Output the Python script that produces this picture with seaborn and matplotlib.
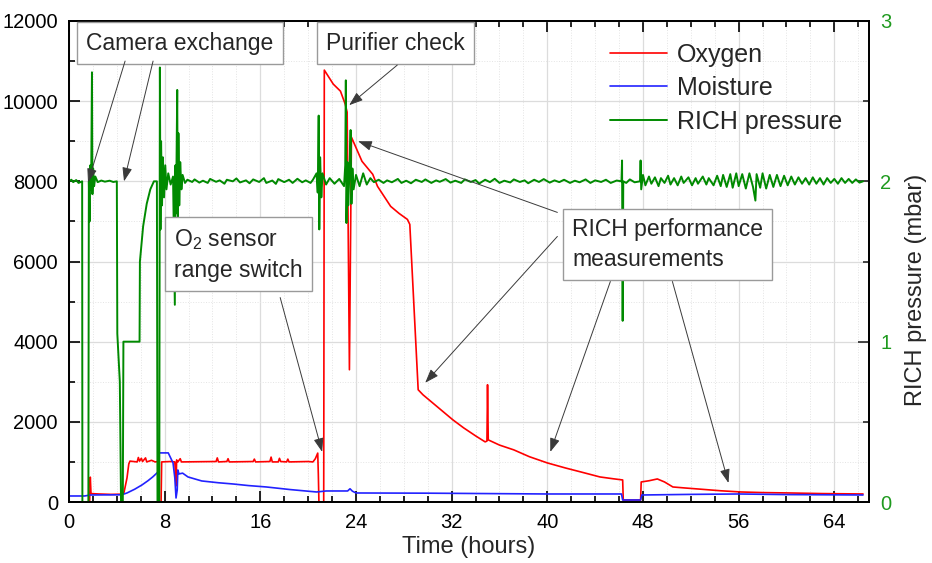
import matplotlib
matplotlib.use('Agg')
import matplotlib.pyplot as plt
from matplotlib.ticker import MultipleLocator
import seaborn as sns

# Werte: (Zeit in h, Wert)
oxygen_points = [
    (1.72, 0), (1.78, 620), (1.84, 210), (2.5, 200), (3.5, 190), (4.4, 195), (4.6, 240),
    (4.85, 600), (5.0, 950), (5.1, 1020), (5.7, 1000), (5.8, 1110), (5.9, 1020), (6.05, 1090),
    (6.15, 1010), (6.4, 1100), (6.5, 1000), (6.9, 1040), (7.2, 1000), (7.45, 1010), (7.5, 0),
    (7.7, 0), (7.75, 1000), (8.5, 1010), (8.85, 1000), (8.9, 700), (8.95, 400), (9.0, 1050),
    (9.1, 1000), (9.3, 1080), (9.4, 1000), (12.3, 1010), (12.4, 1100), (12.5, 1000),
    (13.2, 1010), (13.3, 1080), (13.4, 1000), (15.4, 1010), (15.5, 1070), (15.6, 1000),
    (16.8, 1010), (16.9, 1120), (17.0, 1000), (17.5, 1000), (17.6, 1090), (17.7, 1010),
    (18.2, 1000), (18.3, 1070), (18.4, 1000), (20.0, 1010), (20.4, 1000), (20.6, 1080),
    (20.8, 1220), (20.85, 700), (20.9, 0), (21.3, 0), (21.35, 10775), (22.1, 10425),
    (22.7, 10250), (23.1, 9925), (23.26, 9725), (23.45, 3300), (23.62, 9100), (24.5, 8500),
    (25.4, 8175), (25.8, 7875), (26.9, 7375), (27.6, 7200), (28.3, 7050), (28.5, 6925),
    (29.2, 2800), (29.6, 2675), (30.5, 2450), (31.3, 2250), (32.1, 2050), (33.0, 1850),
    (34.0, 1650), (34.8, 1500), (34.95, 1520), (35.0, 2925), (35.06, 1550), (36.0, 1420),
    (37.2, 1300), (38.5, 1130), (40.0, 975), (41.5, 850), (42.8, 750), (44.4, 625),
    (45.5, 580), (46.3, 550), (46.35, 50), (47.8, 50), (47.85, 500), (48.5, 530),
    (49.2, 575), (49.8, 500), (50.5, 375), (51.5, 350), (52.8, 320), (54.5, 280),
    (56.2, 250), (58.0, 235), (60.3, 225), (63.0, 210), (66.4, 200),
]

moisture_points = [
    (0, 150), (1.3, 150), (1.5, 160), (1.8, 175), (4.4, 180), (4.85, 225), (5.5, 320),
    (6.1, 425), (6.6, 530), (7.0, 625), (7.45, 750), (7.5, 1225), (8.3, 1225), (8.7, 975),
    (8.85, 600), (8.95, 100), (9.05, 300), (9.1, 800), (9.2, 700), (9.5, 720), (9.95, 625),
    (11.1, 525), (12.5, 480), (13.7, 450), (15.0, 410), (16.5, 375), (18.5, 310),
    (20.7, 250), (21.5, 275), (23.3, 275), (23.5, 330), (23.7, 270), (24.0, 225),
    (30.0, 220), (40.0, 200), (46.2, 200), (46.3, 50), (47.8, 50), (47.9, 175),
    (52.0, 190), (56.0, 200), (60.0, 185), (66.4, 175),
]

pressure_points = [
    (0.0, 2.00), (0.2, 2.01), (0.35, 1.995), (0.6, 2.008), (0.8, 1.99), (1.1, 2.00),
    (1.12, 0.0), (1.62, 0.0), (1.66, 2.0), (1.72, 1.75), (1.78, 2.10), (1.85, 1.95),
    (1.92, 2.68), (1.96, 1.92), (2.02, 2.08), (2.1, 1.97), (2.2, 2.03), (2.4, 1.995),
    (2.7, 2.005), (3.0, 1.998), (3.4, 2.004), (3.7, 1.996), (4.0, 2.0),
    (4.04, 1.05), (4.25, 0.75), (4.35, 0.0), (4.5, 0.0), (4.55, 1.0), (5.9, 1.0), (5.93, 1.5),
    (6.2, 1.72), (6.5, 1.86), (6.8, 1.95), (7.1, 2.0), (7.35, 2.0), (7.4, 0.0), (7.55, 0.0),
    (7.6, 2.71), (7.65, 1.7), (7.7, 2.25), (7.78, 1.85), (7.85, 2.15), (7.95, 1.9),
    (8.05, 2.1), (8.15, 1.95), (8.3, 2.05), (8.5, 1.98), (8.7, 2.03), (8.85, 1.23),
    (8.9, 2.1), (8.95, 1.8), (9.05, 2.57), (9.1, 1.7), (9.15, 2.3), (9.22, 1.85),
    (9.3, 2.12), (9.4, 1.95), (9.5, 2.04), (9.7, 1.99), (9.9, 2.01), (10.3, 1.996),
    (10.5, 2.012), (10.9, 1.992), (11.2, 2.004), (11.6, 1.99), (11.8, 2.015), (12.3, 1.997),
    (12.6, 2.006), (13.0, 1.985), (13.2, 2.01), (13.7, 2.0), (14.0, 2.018), (14.3, 1.993),
    (14.8, 2.006), (15.1, 1.988), (15.4, 2.012), (15.9, 1.996), (16.3, 2.02), (16.5, 1.99),
    (17.0, 2.005), (17.3, 1.984), (17.5, 2.014), (18.0, 1.995), (18.4, 2.01), (18.7, 1.99),
    (19.1, 2.016), (19.5, 1.994), (19.8, 2.006), (20.2, 1.99), (20.4, 2.01), (20.7, 2.05),
    (20.8, 1.93), (20.88, 2.41), (20.93, 1.70), (21.0, 2.15), (21.1, 1.9), (21.2, 2.05),
    (21.5, 1.98), (21.8, 2.02), (22.2, 1.985), (22.6, 2.015), (23.0, 1.97), (23.1, 2.1),
    (23.15, 2.63), (23.2, 1.74), (23.28, 2.12), (23.35, 1.85), (23.45, 2.05), (23.55, 2.32),
    (23.62, 1.86), (23.7, 2.08), (23.8, 1.95), (24.0, 2.04), (24.3, 1.97), (24.6, 2.05),
    (24.9, 1.98), (25.2, 2.02), (25.5, 1.995), (25.9, 2.01), (26.3, 1.99), (26.6, 2.006),
    (27.0, 1.994), (27.5, 2.015), (27.8, 1.99), (28.2, 2.004), (28.6, 1.988), (29.0, 2.01),
    (29.5, 1.996), (29.8, 2.012), (30.3, 1.99), (30.7, 2.006), (31.0, 1.997), (31.5, 2.014),
    (31.9, 1.992), (32.3, 2.004), (32.8, 1.99), (33.1, 2.012), (33.6, 1.996), (34.0, 2.008),
    (34.3, 1.986), (34.8, 2.01), (35.2, 1.995), (35.6, 2.016), (36.0, 1.99), (36.4, 2.004),
    (36.9, 1.993), (37.2, 2.012), (37.7, 1.996), (38.1, 2.006), (38.4, 1.988), (38.9, 2.01),
    (39.3, 1.996), (39.7, 2.014), (40.2, 1.992), (40.6, 2.006), (41.0, 1.995), (41.4, 2.01),
    (41.9, 1.99), (42.3, 2.004), (42.7, 1.994), (43.2, 2.012), (43.6, 1.99), (44.0, 2.006),
    (44.5, 1.996), (44.9, 2.01), (45.3, 1.99), (45.8, 2.005), (46.2, 2.0), (46.25, 2.13),
    (46.3, 1.13), (46.35, 2.0), (46.6, 1.99), (46.9, 2.012), (47.3, 1.994), (47.75, 2.0),
    (47.8, 2.13), (47.85, 1.95), (48.0, 2.04), (48.2, 1.975), (48.5, 2.03), (48.7, 1.985),
    (49.0, 2.025), (49.3, 1.97), (49.5, 2.02), (49.8, 1.99), (50.1, 2.035), (50.3, 1.98),
    (50.6, 2.02), (50.9, 1.975), (51.2, 2.03), (51.4, 1.99), (51.8, 2.025), (52.1, 1.975),
    (52.4, 2.02), (52.6, 1.985), (53.0, 2.03), (53.3, 1.98), (53.5, 2.02), (53.9, 1.975),
    (54.2, 2.035), (54.5, 1.97), (54.7, 2.04), (55.0, 1.965), (55.3, 2.045), (55.5, 1.96),
    (55.8, 2.05), (56.0, 1.97), (56.3, 2.045), (56.6, 1.955), (56.9, 2.05), (57.2, 1.965),
    (57.4, 1.88), (57.5, 2.045), (57.8, 1.96), (58.0, 2.05), (58.3, 1.955), (58.6, 2.04),
    (58.9, 1.965), (59.2, 2.04), (59.5, 1.97), (59.8, 2.035), (60.1, 1.975), (60.4, 2.03),
    (60.7, 1.98), (61.0, 2.025), (61.3, 1.985), (61.6, 2.02), (61.9, 1.98), (62.2, 2.025),
    (62.5, 1.985), (62.8, 2.02), (63.1, 1.98), (63.4, 2.02), (63.7, 1.99), (64.0, 2.015),
    (64.3, 1.985), (64.6, 2.02), (64.9, 1.99), (65.2, 2.015), (65.5, 1.99), (65.8, 2.012),
    (66.1, 1.992), (66.4, 2.0),
]

series_labels = ['Oxygen', 'Moisture', 'RICH pressure']
series_colors = ['#ff0000', '#2222ff', '#008a00']

# Anmerkungen: (Text, Position in h / ppm, Ausrichtung)
notes = [
    ('Camera exchange', 9.29, 11450, 'center'),
    ('Purifier check', 27.28, 11450, 'center'),
    ('O$_\\mathregular{2}$ sensor\nrange switch', 8.79, 6175, 'left'),
    ('RICH performance\nmeasurements', 42.09, 6425, 'left'),
]
# Pfeile: (Start, Spitze) in h / ppm
arrows = [
    ((4.69, 11000), (1.59, 7975)),
    ((7.03, 11000), (4.60, 8000)),
    ((27.45, 10900), (23.43, 9900)),
    ((17.66, 5100), (21.17, 1250)),
    ((40.84, 7225), (24.18, 9000)),
    ((40.84, 6625), (29.79, 2975)),
    ((45.27, 5500), (40.25, 1250)),
    ((50.46, 5500), (55.15, 475)),
]

sns.set_theme(style='ticks')
plt.rcParams['font.family'] = ['Liberation Sans', 'DejaVu Sans']
plt.rcParams['mathtext.fontset'] = 'custom'
plt.rcParams['mathtext.rm'] = 'Liberation Sans'

fig = plt.figure(figsize=(9.32, 5.63), dpi=100)
ax = fig.add_axes([69 / 932, 1 - 502 / 563, 800 / 932, 481 / 563])
ax2 = ax.twinx()

ox_t, ox_v = zip(*oxygen_points)
mo_t, mo_v = zip(*moisture_points)
pr_t, pr_v = zip(*pressure_points)

sns.lineplot(x=list(ox_t), y=list(ox_v), ax=ax, color=series_colors[0], lw=1.2,
             estimator=None, sort=False, label=series_labels[0])
sns.lineplot(x=list(mo_t), y=list(mo_v), ax=ax, color=series_colors[1], lw=1.2,
             estimator=None, sort=False, label=series_labels[1])
sns.lineplot(x=list(pr_t), y=list(pr_v), ax=ax2, color=series_colors[2], lw=1.4,
             estimator=None, sort=False, label=series_labels[2])
for a in (ax, ax2):
    if a.get_legend() is not None:
        a.get_legend().remove()

# Achsen
ax.set_xlim(0, 66.9)
ax.set_ylim(0, 12000)
ax2.set_ylim(0, 3)
ax.xaxis.set_major_locator(MultipleLocator(8))
ax.xaxis.set_minor_locator(MultipleLocator(2))
ax.yaxis.set_major_locator(MultipleLocator(2000))
ax.yaxis.set_minor_locator(MultipleLocator(1000))
ax2.yaxis.set_major_locator(MultipleLocator(1))
ax2.yaxis.set_minor_locator(MultipleLocator(0.5))

ax.grid(which='major', color='#dcdcdc', lw=0.9)
ax.grid(which='minor', color='#e4e4e4', lw=0.7, ls=':')

ax.tick_params(which='both', direction='in', top=True, right=False, width=1.2, labelsize=14.5,
               colors='black', pad=8)
ax.tick_params(which='major', length=8)
ax.tick_params(which='minor', length=4)
ax2.tick_params(which='both', direction='in', width=1.2, labelsize=14.5, pad=8,
                labelcolor='#1f9a1f')
ax2.tick_params(which='major', length=8)
ax2.tick_params(which='minor', length=4)
for a in (ax, ax2):
    for s in a.spines.values():
        s.set_color('black')
        s.set_linewidth(1.3)

ax.set_xlabel('Time (hours)', fontsize=17, labelpad=3)
ax.set_ylabel('')
ax2.set_ylabel('RICH pressure (mbar)', fontsize=17)
ax2.yaxis.set_label_coords(1.045, 0.44)

# Legende
h1, l1 = ax.get_legend_handles_labels()
h2, l2 = ax2.get_legend_handles_labels()
ax2.legend(h1 + h2, l1 + l2, loc='upper left', bbox_to_anchor=(0.676, 0.955), frameon=False,
           fontsize=18, handlelength=2.3, handletextpad=0.4, labelspacing=0.38,
           borderpad=0, borderaxespad=0)

# Textkästen und Pfeile
for text, x, y, ha in notes:
    ax2.text(x, y, text, transform=ax.transData, ha=ha, va='center', fontsize=16.5,
             linespacing=1.35, zorder=10,
             bbox=dict(boxstyle='square,pad=0.4', fc='white', ec='#9a9a9a', lw=1))
for start, tip in arrows:
    ax2.annotate('', xy=tip, xytext=start, xycoords=ax.transData, textcoords=ax.transData,
                 arrowprops=dict(arrowstyle='-|>,head_length=0.7,head_width=0.25',
                                 color='#3a3a3a', lw=0.7, shrinkA=0, shrinkB=0), zorder=11)

plt.savefig('out.png', dpi=100)
plt.close()
